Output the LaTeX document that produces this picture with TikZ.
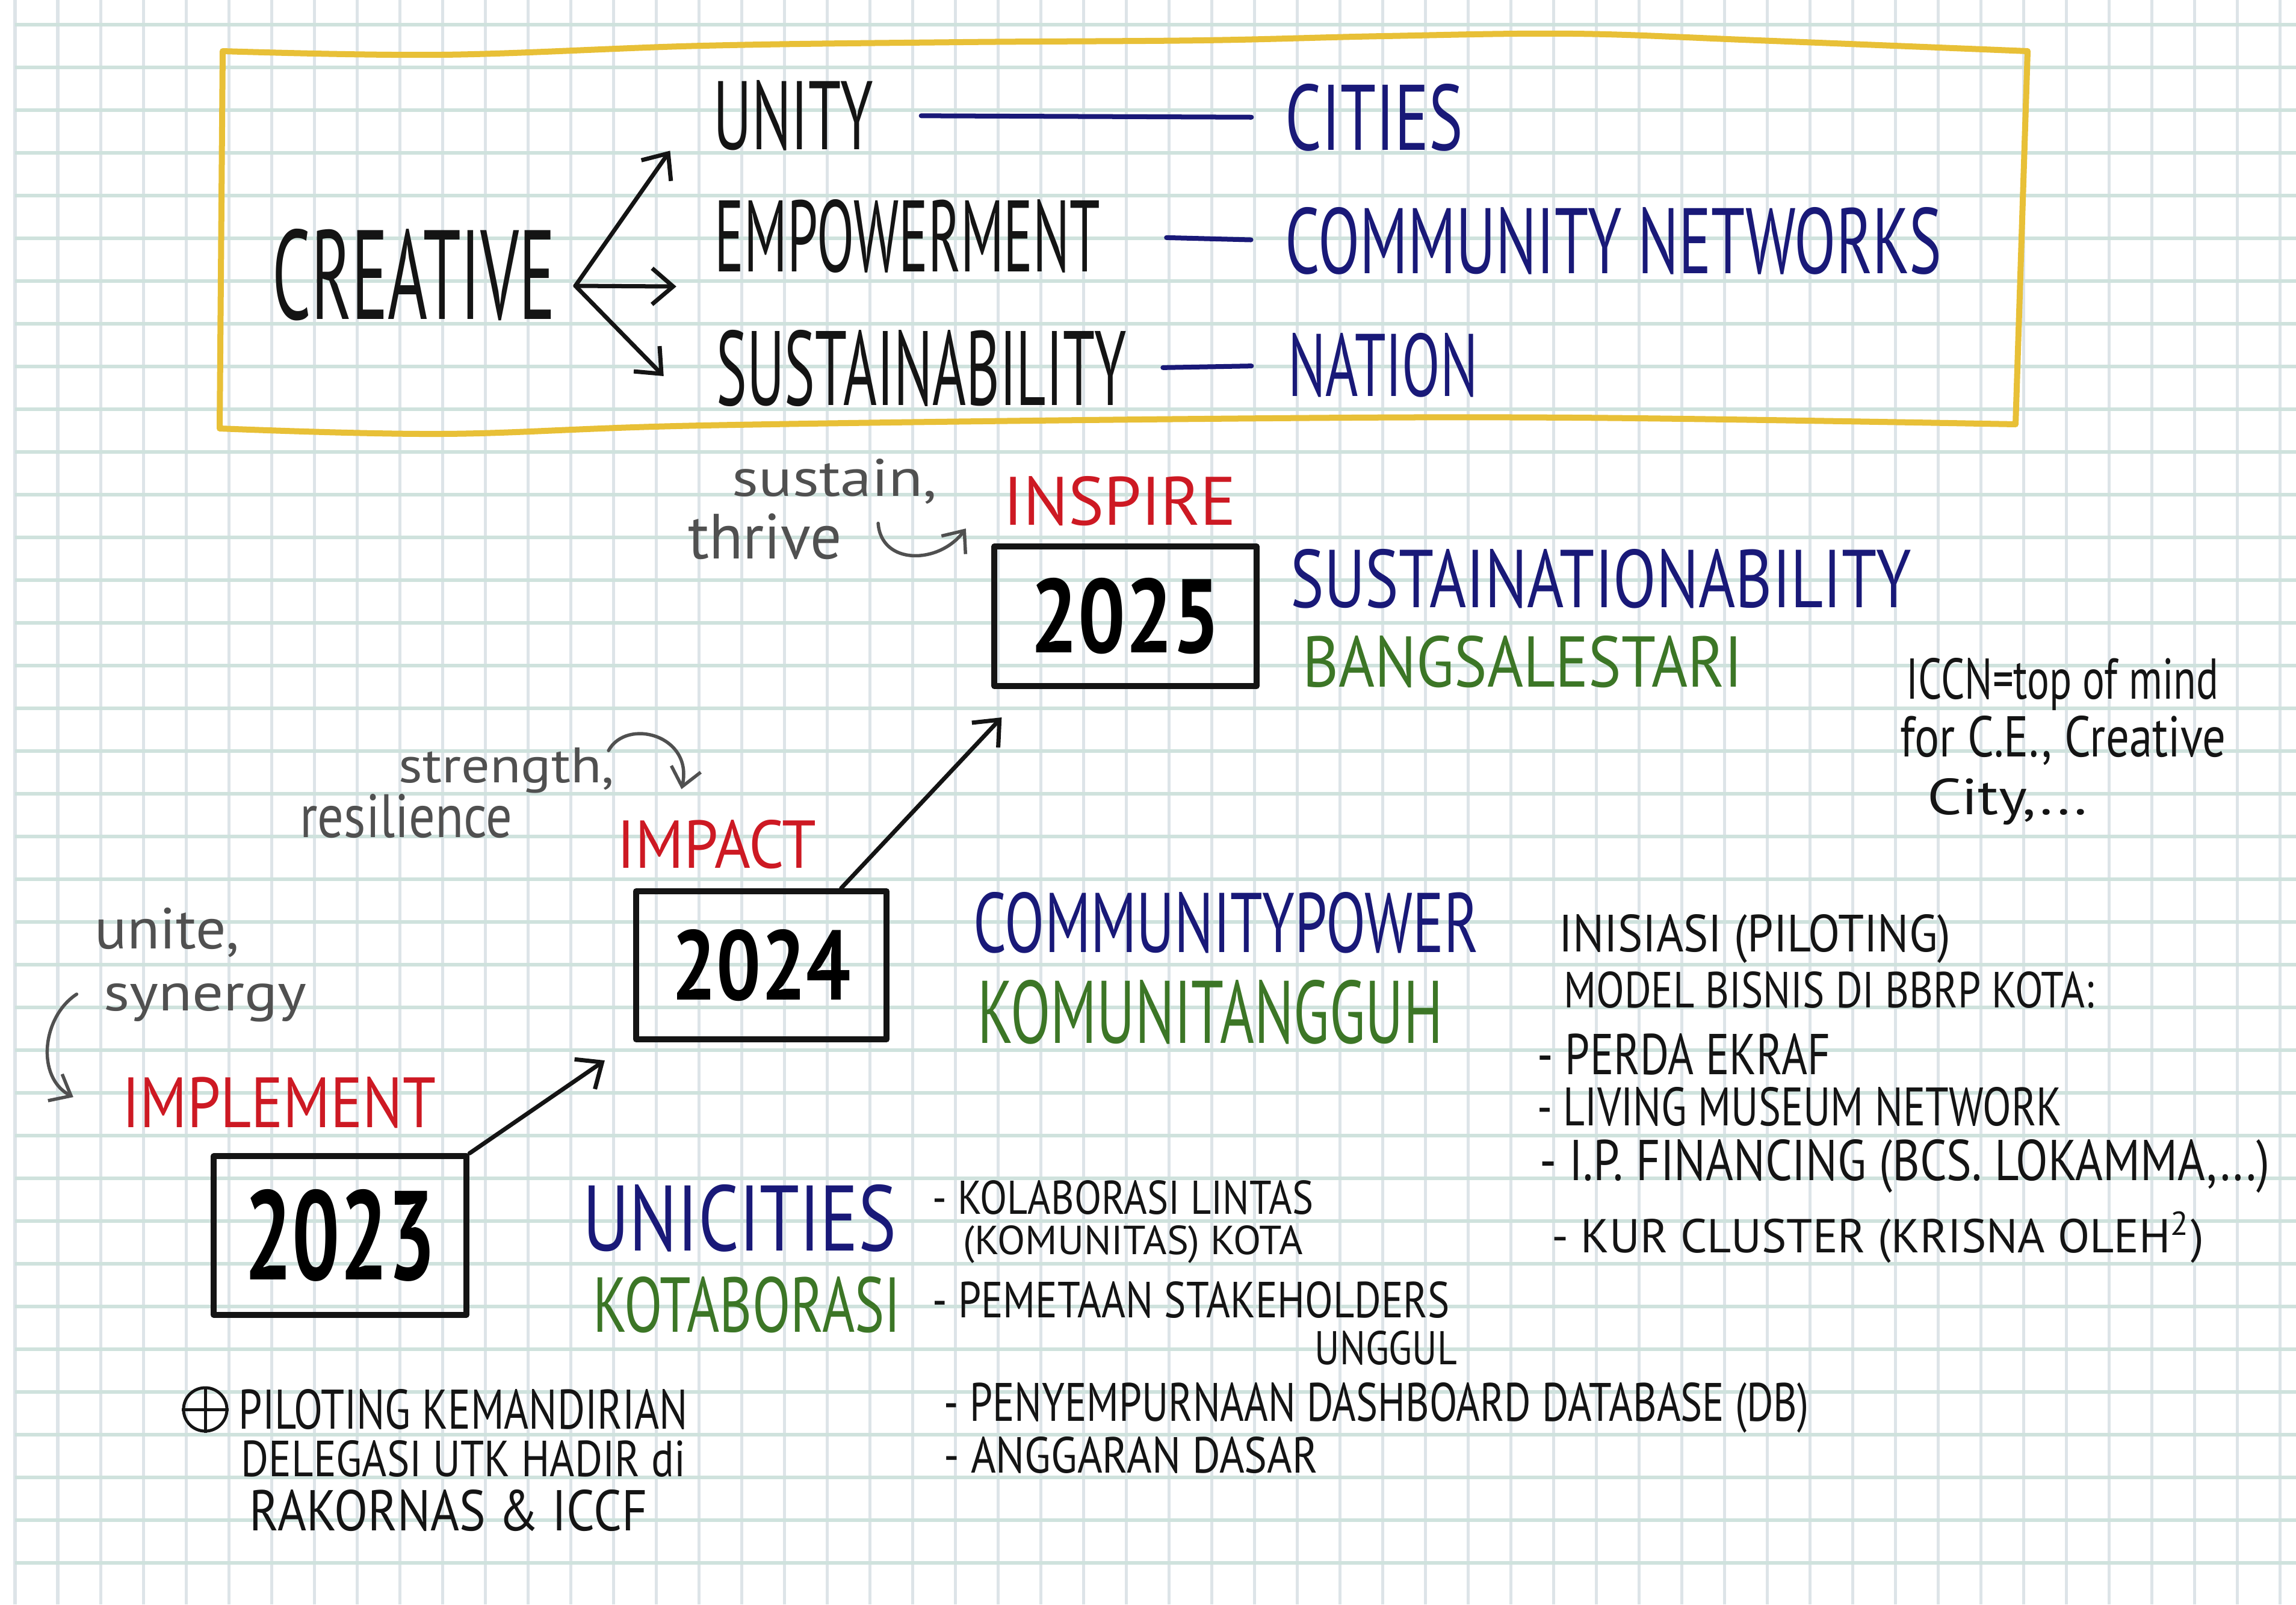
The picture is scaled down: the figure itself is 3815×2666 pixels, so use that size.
\documentclass[tikz,border=0pt]{standalone}
\usepackage{fontspec}
\usepackage{graphicx}
\newfontfamily\handfont{PT Sans}
\usetikzlibrary{arrows.meta,calc}
\definecolor{penred}{RGB}{205,25,35}
\definecolor{penblue}{RGB}{25,25,120}
\definecolor{pengreen}{RGB}{60,118,38}
\definecolor{pengray}{RGB}{80,80,80}
\definecolor{penblack}{RGB}{20,20,20}
\definecolor{penyellow}{RGB}{232,192,55}
\definecolor{gridvcol}{RGB}{221,228,232}
\definecolor{gridhcol}{RGB}{207,226,221}
\newcommand\hw[3]{\resizebox{#1}{#2}{\handfont #3}}
\tikzset
{
  gridv/.style={gridvcol,line width=0.05cm},
  gridh/.style={gridhcol,line width=0.06cm},
  hand/.style={inner sep=0pt,outer sep=0pt,penblack},
  yearbox/.style={draw=penblack,line width=0.1cm,inner sep=0pt},
  arr/.style={penblack,line width=0.07cm,line cap=round,-{Straight Barb[length=0.35cm,width=0.6cm]}},
  note arrow/.style={pengray,line width=0.055cm,line cap=round,-{Straight Barb[length=0.3cm,width=0.5cm]}},
  blue dash/.style={penblue,line width=0.08cm,line cap=round},
  frame/.style={penyellow,line width=0.1cm,line cap=round}
}

\begin{document}
\begin{tikzpicture}[x=0.01cm,y=-0.01cm,line join=round]
  \useasboundingbox (0,0) rectangle (3815,2666);
  % paper
  \fill[white] (0,0) rectangle (3815,2666);
  \foreach \i in {0,...,53} \draw[gridv] ({25+71*\i},0) -- ({25+71*\i},2666);
  \foreach \j in {0,...,36} \draw[gridh] (25,{41+71*\j}) -- (3815,{41+71*\j});
  % yellow frame
  \draw[frame] plot[smooth,tension=0.6] coordinates {(370,85) (734,91) (1168,76) (1600,70) (2000,67) (2300,60) (2614,56) (2920,67) (3369,85)}
     -- plot[smooth,tension=0.6] coordinates {(3349,705) (2614,694) (2000,696) (1168,707) (734,721) (365,712)} -- cycle;
  % creative fork
  \node[hand] (creative) at (688,457) {\hw{4.7cm}{1.5cm}{CREATIVE}};
  \node[hand] (unity) at (1318,192) {\hw{2.65cm}{1.15cm}{UNITY}};
  \node[hand] (empowerment) at (1508,392) {\hw{6.4cm}{1.2cm}{EMPOWERMENT}};
  \node[hand] (sustainability) at (1531,612) {\hw{6.8cm}{1.25cm}{SUSTAINABILITY}};
  \node[hand,penblue] (cities) at (2283,195) {\hw{2.95cm}{1.1cm}{CITIES}};
  \node[hand,penblue] (networks) at (2681,400) {\hw{10.9cm}{1.1cm}{COMMUNITY NETWORKS}};
  \node[hand,penblue] (nation) at (2298,607) {\hw{3.15cm}{1.05cm}{NATION}};
  \coordinate (fork) at (956,475);
  \draw[arr] (fork) -- ($(unity.south west)+(-72,0)$);
  \draw[arr] (fork) -- ($(empowerment.south west)+(-64,23)$);
  \draw[arr] (fork) -- ($(sustainability.west)+(-88,13)$);
  \draw[blue dash,shorten <=0.8cm,shorten >=0.56cm] (unity.east) -- (cities.west);
  \draw[blue dash,shorten <=1.1cm,shorten >=0.57cm] (empowerment.east) -- (networks.west);
  \draw[blue dash,shorten <=0.61cm,shorten >=0.61cm] (sustainability.east) -- (nation.west);
  % 2025
  \node[hand,pengray] (sustain) at (1387,800) {\hw{3.4cm}{0.62cm}{sustain,}};
  \node[hand,pengray] (thrive) at (1271,892) {\hw{2.55cm}{0.75cm}{thrive}};
  \node[hand,penred] (inspire) at (1861,833) {\hw{3.86cm}{0.81cm}{INSPIRE}};
  \draw[note arrow] ($(sustain.south east)+(-98,32)$) .. controls +(5,70) and +(-45,60) .. ($(inspire.south west)+(-63,4)$);
  \node[yearbox,minimum width=4.35cm,minimum height=2.32cm] (b2025) at (1870,1024) {\hw{3.15cm}{1.24cm}{\bfseries 2025}};
  \node[hand,penblue] (sust) at (2660,962) {\hw{10.3cm}{0.97cm}{SUSTAINATIONABILITY}};
  \node[hand,pengreen] (bangsa) at (2530,1100) {\hw{7.3cm}{0.85cm}{BANGSALESTARI}};
  \node[hand] (iccn1) at (3427,1137) {\hw{5.18cm}{0.68cm}{ICCN=top of mind}};
  \node[hand] (iccn2) at (3428,1231) {\hw{5.4cm}{0.68cm}{for C.E., Creative}};
  \node[hand] (iccn3) at (3335,1332) {\hw{2.65cm}{0.6cm}{City,...}};
  % 2024
  \node[hand,pengray] (strength) at (842,1280) {\hw{3.58cm}{0.58cm}{strength,}};
  \node[hand,pengray] (resilience) at (675,1356) {\hw{3.53cm}{0.72cm}{resilience}};
  \node[hand,penred] (impact) at (1191,1403) {\hw{3.31cm}{0.8cm}{IMPACT}};
  \draw[note arrow] ($(strength.north east)+(-10,5)$) .. controls +(30,-55) and +(20,-90) .. ($(impact.north west)+(107,-51)$);
  \node[yearbox,minimum width=4.16cm,minimum height=2.46cm] (b2024) at (1265,1604) {\hw{2.96cm}{1.17cm}{\bfseries 2024}};
  \draw[arr] (b2024.44) -- ($(b2025.south west)+(17,47)$);
  \node[hand,penblue] (commpower) at (2037,1533) {\hw{8.39cm}{1.0cm}{COMMUNITYPOWER}};
  \node[hand,pengreen] (komunitangguh) at (2011,1682) {\hw{7.72cm}{1.05cm}{KOMUNITANGGUH}};
  \node[hand] (inisiasi1) at (2916,1560) {\hw{6.5cm}{0.62cm}{INISIASI (PILOTING)}};
  \node[hand] (inisiasi2) at (3039,1645) {\hw{8.81cm}{0.6cm}{MODEL BISNIS DI BBRP KOTA:}};
  \node[hand] (perda) at (2798,1752) {\hw{4.86cm}{0.68cm}{- PERDA EKRAF}};
  \node[hand] (living) at (2990,1839) {\hw{8.71cm}{0.64cm}{- LIVING MUSEUM NETWORK}};
  \node[hand] (ipfin) at (3165,1938) {\hw{12.12cm}{0.68cm}{- I.P. FINANCING (BCS. LOKAMMA,...)}};
  \node[hand] (kur) at (3120,2056) {\hw{10.83cm}{0.68cm}{- KUR CLUSTER (KRISNA OLEH\textsuperscript{2})}};
  % 2023
  \node[hand,pengray] (unite) at (278,1550) {\hw{2.4cm}{0.68cm}{unite,}};
  \node[hand,pengray] (synergy) at (341,1666) {\hw{3.37cm}{0.45cm}{synergy}};
  \node[hand,penred] (implement) at (464,1832) {\hw{5.2cm}{0.84cm}{IMPLEMENT}};
  \draw[note arrow] ($(synergy.west)+(-45,-14)$) .. controls +(-58,38) and +(-62,-33) .. ($(implement.west)+(-82,-9)$);
  \node[yearbox,minimum width=4.2cm,minimum height=2.63cm] (b2023) at (565,2053) {\hw{3.17cm}{1.5cm}{\bfseries 2023}};
  \draw[arr] (b2023.north east) -- ($(b2024.south west)+(-47,30)$);
  \node[hand,penblue] (unicities) at (1229,2024) {\hw{5.21cm}{1.1cm}{UNICITIES}};
  \node[hand,pengreen] (kotaborasi) at (1241,2168) {\hw{5.11cm}{0.92cm}{KOTABORASI}};
  \node[hand] (kolab1) at (1866,1990) {\hw{6.32cm}{0.56cm}{- KOLABORASI LINTAS}};
  \node[hand] (kolab2) at (1883,2068) {\hw{5.64cm}{0.48cm}{(KOMUNITAS) KOTA}};
  \node[hand] (pemetaan) at (1979,2160) {\hw{8.59cm}{0.6cm}{- PEMETAAN STAKEHOLDERS}};
  \node[hand] (unggul) at (2303,2240) {\hw{2.36cm}{0.56cm}{UNGGUL}};
  \node[hand] (dashboard) at (2287,2339) {\hw{14.36cm}{0.64cm}{- PENYEMPURNAAN DASHBOARD DATABASE (DB)}};
  \node[hand] (anggaran) at (1879,2418) {\hw{6.21cm}{0.6cm}{- ANGGARAN DASAR}};
  % piloting note
  \node[circle,draw=penblack,line width=0.05cm,minimum size=0.72cm,inner sep=0pt] (plus) at (341,2342) {};
  \draw[penblack,line width=0.05cm] (plus.north) -- (plus.south);
  \draw[penblack,line width=0.05cm] (plus.west) -- (plus.east);
  \node[hand] (pilot1) at (770,2342) {\hw{7.46cm}{0.66cm}{PILOTING KEMANDIRIAN}};
  \node[hand] (pilot2) at (770,2424) {\hw{7.38cm}{0.6cm}{DELEGASI UTK HADIR di}};
  \node[hand] (pilot3) at (745,2510) {\hw{6.61cm}{0.68cm}{RAKORNAS \& ICCF}};
\end{tikzpicture}
\end{document}
